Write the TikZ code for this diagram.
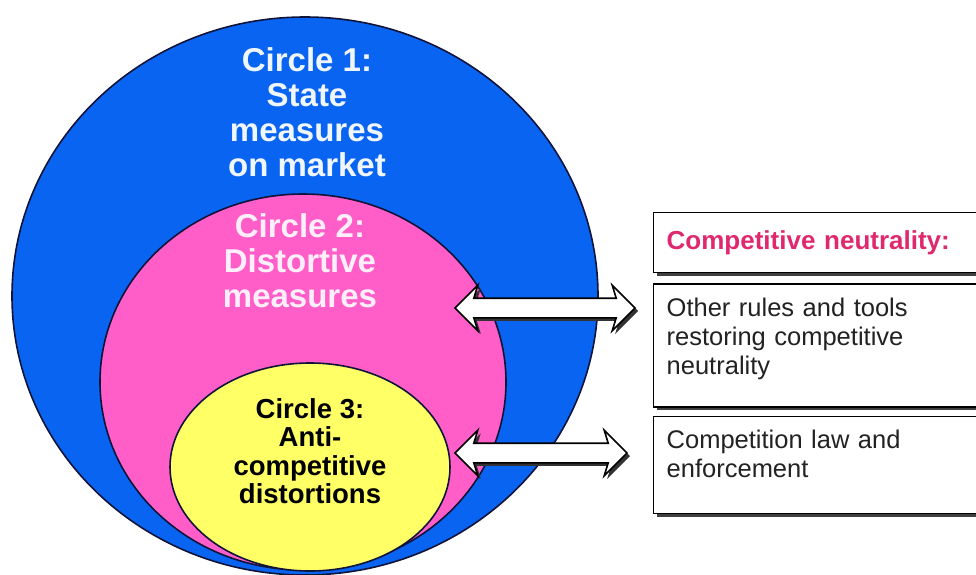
\documentclass[tikz,border=0pt]{standalone}
\usepackage{fontspec}
\setmainfont{Liberation Sans}
\definecolor{Outer}{HTML}{0A64F2}
\definecolor{Middle}{HTML}{FF5EC9}
\definecolor{Inner}{HTML}{FFFF66}
\definecolor{Rim}{HTML}{10143A}
\definecolor{Rose}{HTML}{E0286E}
\definecolor{Ink}{HTML}{222222}
\usetikzlibrary{positioning,shapes.geometric,shapes.arrows,shadows}

\begin{document}
\begin{tikzpicture}[
    x=1pt, y=-1pt,
    node distance=9pt,
    ring/.style={ellipse, draw=Rim, line width=1.6pt, inner sep=0pt},
    ringtext/.style={align=center, font=\bfseries\fontsize{33}{35}\selectfont},
    nbox/.style={
      draw=black, line width=1.4pt, fill=white, align=left,
      text width=310pt, inner xsep=13pt, inner ysep=6pt,
      font=\fontsize{25.5}{29}\selectfont, text=Ink,
      drop shadow={shadow xshift=3pt, shadow yshift=-3pt, fill=black!75, opacity=1}
    },
    dblarrow/.style={
      double arrow, draw=black, line width=1.6pt, fill=white,
      inner xsep=0pt, inner ysep=9pt, double arrow head extend=13pt,
      double arrow head indent=4pt,
      drop shadow={shadow xshift=3pt, shadow yshift=-3pt, fill=black!80, opacity=1}
    }
  ]
    \useasboundingbox (0,0) rectangle (976,574);

    % the three nested circles
    \node[ring, fill=Outer, minimum width=586pt, minimum height=558pt] (c1) at (305,296) {};
    \node[ring, fill=Middle, minimum width=406pt, minimum height=376pt] (c2) at (303,382) {};
    \node[ring, fill=Inner, minimum width=280pt, minimum height=208pt] (c3) at (310,467) {};

    \node[ringtext, text=white!94!Outer] (t1) at (307,112) {Circle 1:\\State\\measures\\on market};
    \node[ringtext, text=white!90!Middle] (t2) at (300,261) {Circle 2:\\Distortive\\measures};
    \node[ringtext, font=\bfseries\fontsize{27.5}{28.5}\selectfont, text=black] (t3) at (310,451)
      {Circle 3:\\Anti-\\competitive\\distortions};

    % boxes on the right
    \node[nbox, anchor=north west, minimum height=60pt, font=\bfseries\fontsize{26}{29}\selectfont, text=Rose]
      (neut) at (653,212) {Competitive neutrality:};
    \node[nbox, below=10pt of neut, text height=26pt, text depth=85pt] (rules)
      {Other rules and tools\\restoring competitive\\neutrality};
    \node[nbox, below=8pt of rules, text height=26pt, text depth=59pt] (law)
      {Competition law and\\enforcement};

    % two-way arrows
    \node[dblarrow, minimum height=180pt] (arr2) at (545,308) {};
    \node[dblarrow, minimum height=172pt] (arr3) at (541,453) {};
  \end{tikzpicture}
\end{document}
